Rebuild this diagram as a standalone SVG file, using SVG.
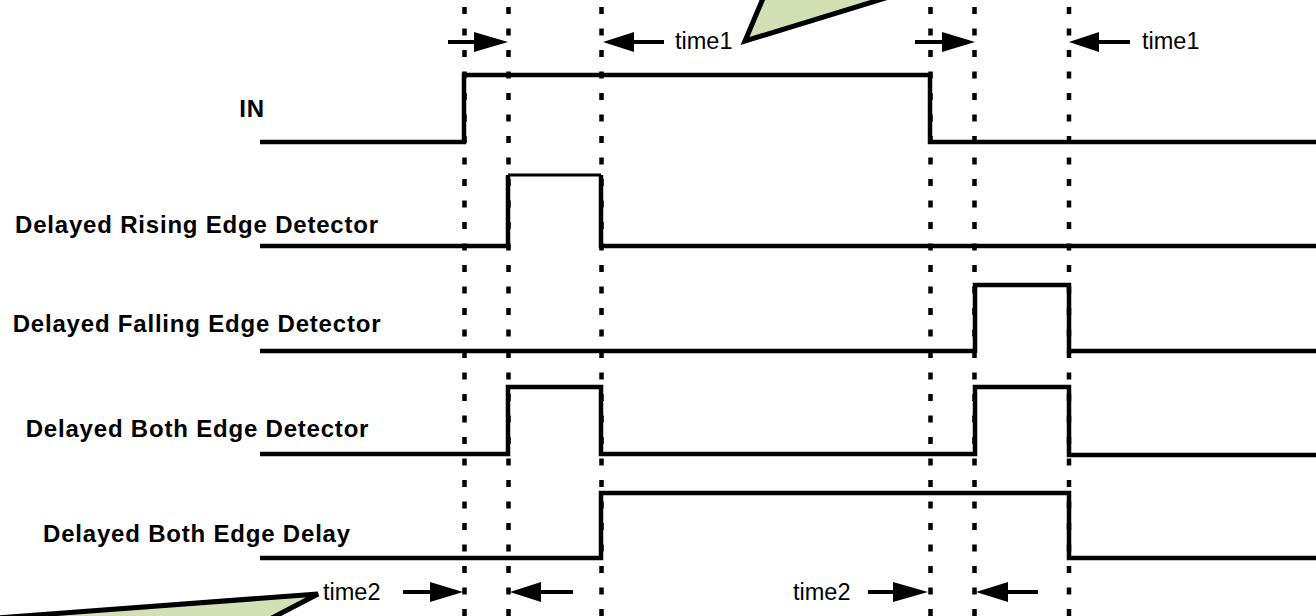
<svg xmlns="http://www.w3.org/2000/svg" width="1316" height="616" viewBox="0 0 1316 616">
<style>
.lbl{font-family:"Liberation Sans",Arial,sans-serif;font-weight:bold;font-size:24px;letter-spacing:0.8px;fill:#000;text-anchor:middle}
.tm{font-family:"Liberation Sans",Arial,sans-serif;font-size:23.5px;fill:#000}
.sig{fill:none;stroke:#000;stroke-width:4.5;stroke-linejoin:miter;stroke-linecap:butt}
.dot{stroke:#000;stroke-width:4.5;stroke-dasharray:7 14.5}
.arr{stroke:#000;stroke-width:4}
.head{fill:#000}
.call{fill:#d3e0b6;stroke:#000;stroke-width:5;stroke-linejoin:miter}
</style>
<rect width="1316" height="616" fill="#fff"/>
<g id="gridlines">
<line class="dot" x1="464.5" y1="7" x2="464.5" y2="616"/>
<line class="dot" x1="508.5" y1="7" x2="508.5" y2="616"/>
<line class="dot" x1="601.5" y1="7" x2="601.5" y2="616"/>
<line class="dot" x1="930.5" y1="7" x2="930.5" y2="616"/>
<line class="dot" x1="974.5" y1="7" x2="974.5" y2="616"/>
<line class="dot" x1="1069" y1="7" x2="1069" y2="616"/>
</g>
<g id="sig-in">
<text class="lbl" x="252" y="117">IN</text>
<polyline class="sig" points="260,142 464,142 464,75 930,75 930,142 1316,142"/>
</g>
<g id="sig-rising">
<text class="lbl" x="197" y="233">Delayed Rising Edge Detector</text>
<polyline class="sig" points="260,246 508,246 508,175"/>
<line x1="508" y1="175" x2="601" y2="175" stroke="#000" stroke-width="3"/>
<polyline class="sig" points="601,175 601,246 1316,246"/>
</g>
<g id="sig-falling">
<text class="lbl" x="197" y="332">Delayed Falling Edge Detector</text>
<polyline class="sig" points="260,351 975,351 975,285 1069,285 1069,351 1316,351"/>
</g>
<g id="sig-both">
<text class="lbl" x="197.5" y="437">Delayed Both Edge Detector</text>
<polyline class="sig" points="260,454 508,454 508,387 601,387 601,454 975,454 975,387 1069,387 1069,455 1316,455"/>
</g>
<g id="sig-delay">
<text class="lbl" x="197" y="542">Delayed Both Edge Delay</text>
<polyline class="sig" points="260,558 601,558 601,493 1069,493 1069,558 1316,558"/>
</g>
<g id="connectors">
<line class="arr" x1="448" y1="42" x2="476" y2="42"/>
<polygon class="head" points="474,32 508,42 474,52"/>
<line class="arr" x1="632" y1="42" x2="664" y2="42"/>
<polygon class="head" points="634,32 603,42 634,52"/>
<line class="arr" x1="915" y1="42" x2="944" y2="42"/>
<polygon class="head" points="942,32 975,42 942,52"/>
<line class="arr" x1="1097" y1="42" x2="1130" y2="42"/>
<polygon class="head" points="1099,32 1069,42 1099,52"/>
<line class="arr" x1="403" y1="592" x2="432" y2="592"/>
<polygon class="head" points="430,582 463,592 430,602"/>
<line class="arr" x1="538" y1="592" x2="573" y2="592"/>
<polygon class="head" points="541,582 510,592 541,602"/>
<line class="arr" x1="868" y1="592" x2="895" y2="592"/>
<polygon class="head" points="893,582 928,592 893,602"/>
<line class="arr" x1="1006" y1="592" x2="1038" y2="592"/>
<polygon class="head" points="1008,582 976,592 1008,602"/>
</g>
<g id="time-labels">
<text class="tm" x="675" y="49">time1</text>
<text class="tm" x="1142" y="49">time1</text>
<text class="tm" x="323" y="600">time2</text>
<text class="tm" x="793" y="600">time2</text>
</g>
<g id="callout-top">
<polygon class="call" points="764,-4 745,41 892,-4"/>
</g>
<g id="callout-bottom">
<polygon class="call" points="-4,618 318,594 268,620 -4,620"/>
</g>
</svg>
